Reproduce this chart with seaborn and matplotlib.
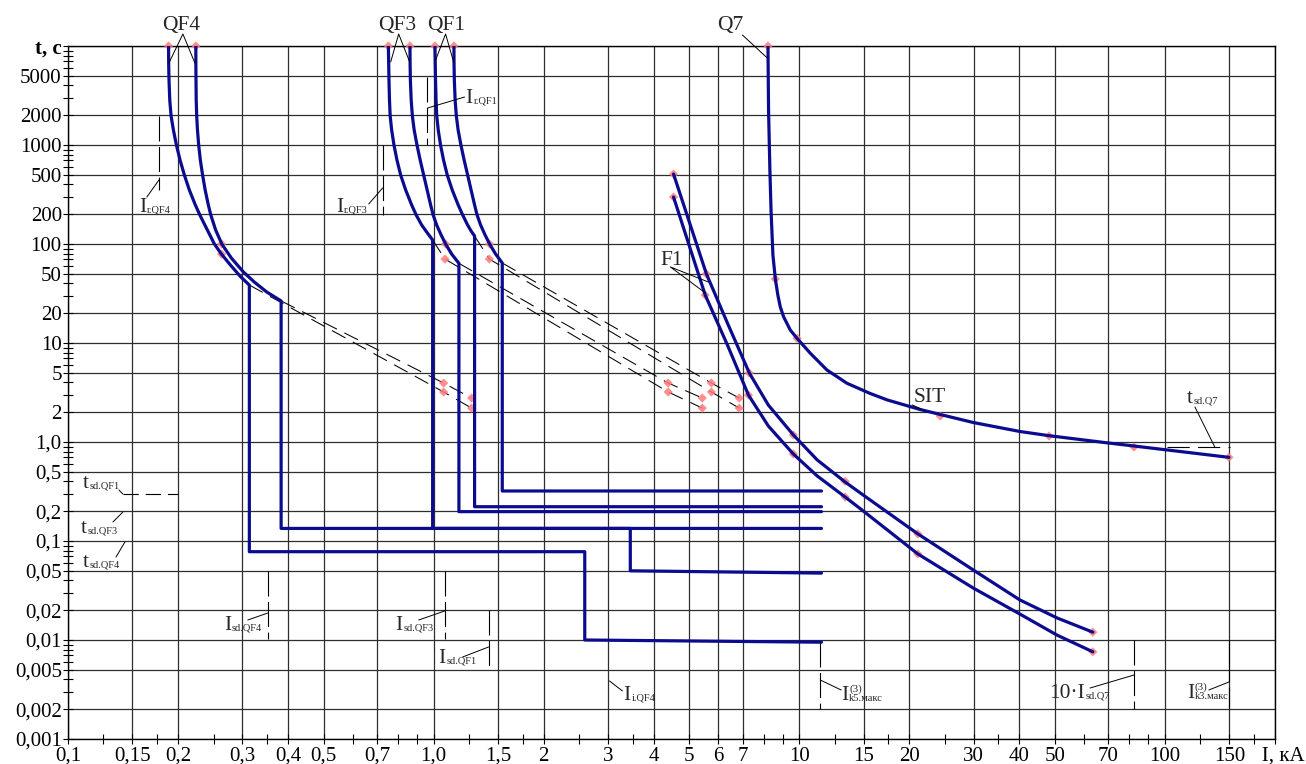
import matplotlib
matplotlib.use("Agg")
import matplotlib.pyplot as plt
from matplotlib.ticker import NullFormatter, FixedLocator, FixedFormatter
import pandas as pd
import seaborn as sns

# ---------------- data: current I (kA), time t (s) ----------------
# QF4 tolerance band (left / right curve)
qf4a_I = [0.1884, 0.1885, 0.1889, 0.1898, 0.1914, 0.1942, 0.1979, 0.2025, 0.2081, 0.2147, 0.2230,
          0.2294, 0.2405, 0.2514, 0.2627, 0.2780, 0.2970, 0.3133, 0.3133, 2.59, 2.59, 11.5]
qf4a_t = [10000, 6735, 4536, 2848, 1963, 1417, 1000, 705.6, 497.7, 351.2, 247.7,
          196.3, 138.5, 100, 79.3, 61.4, 46.4, 38.5, 0.078, 0.078, 0.010, 0.0095]
qf4b_I = [0.2237, 0.2237, 0.2239, 0.2242, 0.2249, 0.2260, 0.2277, 0.2301, 0.2334, 0.2372, 0.2420,
          0.2458, 0.2534, 0.2634, 0.2797, 0.3017, 0.3232, 0.3497, 0.3827, 0.3827, 3.45, 3.45, 11.5]
qf4b_t = [10000, 6735, 4536, 2848, 1963, 1417, 1000, 705.6, 497.7, 351.2, 247.7,
          196.3, 138.5, 100, 72.2, 52.2, 41.3, 32.7, 26.6, 0.134, 0.134, 0.050, 0.0474]
# QF3
qf3a_I = [0.7519, 0.7534, 0.7548, 0.7572, 0.7605, 0.7677, 0.7789, 0.7937, 0.8124, 0.8385, 0.8708,
          0.8959, 0.9274, 0.9569, 0.9937, 0.9937, 11.5]
qf3a_t = [10000, 6735, 4536, 2848, 1963, 1417, 1000, 705.6, 497.7, 351.2, 247.7,
          196.3, 155.6, 132.2, 109.7, 0.134, 0.134]
qf3b_I = [0.8615, 0.8621, 0.8637, 0.8681, 0.8746, 0.8846, 0.9004, 0.9186, 0.9391, 0.9599, 0.9813,
          0.9969, 1.0191, 1.0483, 1.0784, 1.1198, 1.1725, 1.1725, 11.5]
qf3b_t = [10000, 6735, 4536, 2848, 1963, 1417, 1000, 705.6, 497.7, 351.2, 247.7,
          196.3, 155.6, 123.3, 100, 79.3, 63.8, 0.198, 0.198]
# QF1
qf1a_I = [1.0082, 1.0101, 1.0120, 1.0152, 1.0197, 1.0294, 1.0444, 1.0642, 1.0894, 1.1241, 1.1673,
          1.2008, 1.2384, 1.2660, 1.2942, 1.2942, 11.5]
qf1a_t = [10000, 6735, 4536, 2848, 1963, 1417, 1000, 705.6, 497.7, 351.2, 247.7,
          196.3, 155.6, 135.3, 120.4, 0.222, 0.222]
qf1b_I = [1.1363, 1.1370, 1.1392, 1.1449, 1.1536, 1.1667, 1.1874, 1.2116, 1.2386, 1.2660, 1.2942,
          1.3147, 1.3440, 1.3826, 1.4223, 1.4770, 1.5406, 1.5406, 11.5]
qf1b_t = [10000, 6735, 4536, 2848, 1963, 1417, 1000, 705.6, 497.7, 351.2, 247.7,
          196.3, 155.6, 123.3, 100, 79.3, 64.3, 0.32, 0.32]
# F1 fuse (upper / lower curve)
f1a_I = [4.53, 5.57, 6.36, 7.30, 8.23, 9.63, 11.2, 13.35, 14.96, 21.1, 29.9, 40.1, 50.7, 63.5]
f1a_t = [509, 50, 15.9, 4.98, 2.36, 1.18, 0.658, 0.394, 0.291, 0.118, 0.051, 0.0254, 0.0167, 0.012]
f1b_I = [4.53, 5.53, 6.36, 7.26, 8.23, 9.63, 11.2, 13.35, 14.96, 21.1, 29.9, 40.1, 50.7, 63.5]
f1b_t = [298, 30.5, 9.55, 2.98, 1.45, 0.757, 0.4535, 0.278, 0.201, 0.074, 0.0335, 0.0183, 0.0112, 0.0076]
# Q7 (SIT)
q7_I = [8.21, 8.24, 8.31, 8.37, 8.47, 8.60, 8.737, 8.874, 9.06, 9.45, 9.86, 10.72, 11.9, 13.5, 15.63,
        17.4, 21.4, 24.3, 29.9, 40.1, 48.2, 69.4, 82.3, 105.4, 149.6]
q7_t = [10000, 2257, 559, 220, 77.4, 44.3, 30.5, 23.1, 18.4, 13.5, 11.15, 7.87, 5.34, 3.92, 3.09,
        2.66, 2.13, 1.896, 1.574, 1.277, 1.158, 0.981, 0.911, 0.817, 0.70]
# dashed I^2t continuations
d_qf4a_I = [0.3133, 1.065, 1.27];          d_qf4a_t = [38.5, 3.2, 2.2]
d_qf4b_I = [0.3827, 1.065, 1.27];          d_qf4b_t = [26.6, 3.94, 2.78]
d_qf3a_I = [0.9937, 1.074, 4.38, 5.43];    d_qf3a_t = [109.7, 70.5, 3.2, 2.2]
d_qf3b_I = [1.1725, 4.38, 5.43];           d_qf3b_t = [63.8, 3.94, 2.78]
d_qf1a_I = [1.2942, 1.42, 5.75, 6.85];     d_qf1a_t = [120.4, 70.5, 3.2, 2.2]
d_qf1b_I = [1.5406, 5.75, 6.85];           d_qf1b_t = [64.3, 3.94, 2.78]
# node markers
mk_I = [0.1884, 0.2237, 0.7519, 0.8615, 1.0082, 1.1363, 8.21,
        0.263, 0.263, 1.078, 1.074, 1.422, 1.42,
        1.065, 1.065, 1.27, 1.27, 4.38, 4.38, 5.43, 5.43, 5.75, 5.75, 6.85, 6.85,
        4.53, 4.53, 5.57, 5.53, 7.30, 7.26, 9.63, 9.63, 13.35, 13.35, 21.1, 21.1, 63.5, 63.5,
        8.60, 9.86, 24.3, 48.2, 82.3, 149.6]
mk_t = [10000, 10000, 10000, 10000, 10000, 10000, 10000,
        100, 79, 100, 70.5, 100, 70.5,
        3.94, 3.2, 2.78, 2.2, 3.94, 3.2, 2.78, 2.2, 3.94, 3.2, 2.78, 2.2,
        509, 298, 50, 30.5, 4.98, 2.98, 1.18, 0.757, 0.40, 0.278, 0.118, 0.074, 0.012, 0.0076,
        44.3, 11.15, 1.83, 1.15, 0.89, 0.70]
# axis ticks
x_ticks = [0.1, 0.15, 0.2, 0.3, 0.4, 0.5, 0.7, 1.0, 1.5, 2, 3, 4, 5, 6, 7, 10, 15, 20, 30, 40, 50, 70, 100, 150, 200]
x_labels = ["0,1", "0,15", "0,2", "0,3", "0,4", "0,5", "0,7", "1,0", "1,5", "2", "3", "4", "5", "6", "7",
            "10", "15", "20", "30", "40", "50", "70", "100", "150", "   I, кА"]
x_minor = [0.125, 0.175, 0.25, 0.35, 0.6, 0.8, 0.9, 1.25, 1.75, 2.5, 3.5, 8, 9, 12.5, 17.5, 25, 35, 60, 80, 90, 125, 175]
y_ticks = [0.001, 0.002, 0.005, 0.01, 0.02, 0.05, 0.1, 0.2, 0.5, 1, 2, 5, 10, 20, 50, 100, 200, 500, 1000, 2000, 5000, 10000]
y_labels = ["0,001", "0,002", "0,005", "0,01", "0,02", "0,05", "0,1", "0,2", "0,5", "1,0", "2", "5", "10", "20",
            "50", "100", "200", "500", "1000", "2000", "5000", "t, с"]
y_minor = [m * 10.0 ** k for k in range(-3, 4) for m in (3, 4, 6, 7, 8, 9)]

# ---------------- style ----------------
sns.set_theme(style="ticks")
plt.rcParams["font.family"] = ["Liberation Serif", "DejaVu Serif"]
plt.rcParams["lines.scale_dashes"] = False
plt.rcParams["axes.edgecolor"] = "black"
plt.rcParams["axes.linewidth"] = 1.0

NAVY = "#0b0b8f"
PINK = "#ff7a7a"

fig = plt.figure(figsize=(13.06, 7.64), dpi=100)
ax = fig.add_axes([68 / 1306, 1 - 739 / 764, 1207 / 1306, 693 / 764])
ax.set_xscale("log")
ax.set_yscale("log")
ax.set_xlim(0.1, 200)
ax.set_ylim(0.001, 10000)

ax.xaxis.set_major_locator(FixedLocator(x_ticks))
ax.xaxis.set_major_formatter(FixedFormatter(x_labels))
ax.xaxis.set_minor_locator(FixedLocator(x_minor))
ax.xaxis.set_minor_formatter(NullFormatter())
ax.yaxis.set_major_locator(FixedLocator(y_ticks))
ax.yaxis.set_major_formatter(FixedFormatter(y_labels))
ax.yaxis.set_minor_locator(FixedLocator(y_minor))
ax.yaxis.set_minor_formatter(NullFormatter())
ax.tick_params(which="both", direction="inout", length=7, width=0.8, colors="black",
               labelsize=15, bottom=True, left=True, top=False, right=False)
ax.tick_params(axis="x", pad=2)
ax.tick_params(axis="y", pad=1)
ax.grid(which="major", color="#2e2e2e", linewidth=0.9)
ax.set_axisbelow(True)

# ---------------- curves ----------------
curves = [(qf4a_I, qf4a_t), (qf4b_I, qf4b_t), (qf3a_I, qf3a_t), (qf3b_I, qf3b_t),
          (qf1a_I, qf1a_t), (qf1b_I, qf1b_t), (f1a_I, f1a_t), (f1b_I, f1b_t), (q7_I, q7_t)]
for I, t in curves:
    df = pd.DataFrame({"I": I, "t": t})
    sns.lineplot(data=df, x="I", y="t", sort=False, estimator=None, color=NAVY,
                 linewidth=2.3, ax=ax, zorder=4, solid_joinstyle="round")

dashed = [(d_qf4a_I, d_qf4a_t), (d_qf4b_I, d_qf4b_t), (d_qf3a_I, d_qf3a_t),
          (d_qf3b_I, d_qf3b_t), (d_qf1a_I, d_qf1a_t), (d_qf1b_I, d_qf1b_t)]
for I, t in dashed:
    ax.plot(I, t, color="black", lw=0.75, dashes=(11, 6), zorder=3)

sns.scatterplot(x=mk_I, y=mk_t, marker="D", s=22, color=PINK, edgecolor="none", alpha=0.85,
                linewidth=0, ax=ax, zorder=3.5, clip_on=False)

ax.set_xlabel("")
ax.set_ylabel("")
ax.get_yticklabels()[-1].set_fontweight("bold")

# ---------------- reference (dashed) lines ----------------
LW = 0.8
def vdash(x, t1, t2, d=(18, 4)):
    ax.plot([x, x], [t1, t2], color="black", lw=LW, dashes=d, zorder=3)

def hdash(t, x1, x2, d=(11, 5)):
    ax.plot([x1, x2], [t, t], color="black", lw=LW, dashes=d, zorder=3)

vdash(0.1773, 1963, 351)      # Ir.QF4
vdash(0.7253, 1000, 196)      # Ir.QF3
vdash(0.957, 4863, 1000)      # Ir.QF1
hdash(0.2984, 0.1413, 0.1998) # tsd.QF1
vdash(0.352, 0.0498, 0.01023) # Isd.QF4
vdash(1.0716, 0.0498, 0.01023)# Isd.QF3
vdash(1.413, 0.0201, 0.0051)  # Isd.QF1
vdash(11.41, 0.00953, 0.002)  # Ik5
vdash(82.3, 0.01, 0.002)      # 10 Isd.Q7
vdash(149.6, 0.01, 0.002, d=(30, 4))  # Ik3
hdash(0.89, 101.3, 150.5, d=(16, 6))  # tsd.Q7

# ---------------- leaders ----------------
def leader(xs, ts):
    ax.plot(xs, ts, color="black", lw=0.7, zorder=5, clip_on=False)

leader([0.1888, 0.2062, 0.2223], [6735, 13220, 6735])
leader([0.7629, 0.8023, 0.8601], [6893, 13220, 6893])
leader([1.0127, 1.078, 1.134], [7221, 13220, 6893])
leader([6.99, 8.177], [12920, 7564])
leader([5.641, 4.442, 5.536], [41.3, 58.6, 32])
leader([20.36, 21.54], [2.37, 2.154])
leader([0.1643, 0.1773], [298.4, 443])
leader([0.6645, 0.7253], [253.6, 368])
leader([0.963, 1.215], [2364, 3053])
leader([0.1378, 0.1413], [0.3275, 0.2984])
leader([0.1327, 0.1413], [0.1555, 0.1963])
leader([0.1353, 0.1431], [0.0689, 0.0977])
leader([0.3102, 0.352], [0.01592, 0.01874])
leader([0.910, 1.0716], [0.01592, 0.01963])
leader([1.200, 1.413], [0.00673, 0.0085])
leader([3.027, 3.284], [0.003853, 0.003055])
leader([11.41, 13.02], [0.003945, 0.003126])
leader([62.4, 82.3], [0.003273, 0.00443])
leader([131.9, 149.6], [0.003126, 0.003765])
leader([120.8, 136.9], [2.257, 0.89])

# ---------------- texts ----------------
FS = 15.5
SFS = 7.5
def plain(x, t, s):
    ax.text(x, t, s, fontsize=FS, ha="center", va="baseline", zorder=6, clip_on=False)

def label(x, t, main, sub=None, sup=None):
    tx = ax.text(x, t, main, fontsize=FS, ha="left", va="baseline", zorder=6)
    if sub:
        ax.annotate(sub, xy=(1, 0), xycoords=tx, xytext=(0.5, 1.7), textcoords="offset points",
                    fontsize=SFS, ha="left", va="bottom", zorder=6)
    if sup:
        ax.annotate(sup, xy=(1, 1), xycoords=tx, xytext=(0.5, 1.0), textcoords="offset points",
                    fontsize=SFS + 0.5, ha="left", va="top", zorder=6)

plain(0.204, 14510, "QF4")
plain(0.797, 14510, "QF3")
plain(1.085, 14510, "QF1")
plain(6.478, 14510, "Q7")
plain(4.47, 61.4, "F1")
plain(22.8, 2.535, "SIT")

label(0.1563, 210.5, "I", "r.QF4")
label(0.540, 210.5, "I", "r.QF3")
label(1.223, 2656, "I", "r.QF1")
label(0.1099, 0.343, "t", "sd.QF1")
label(0.1085, 0.1204, "t", "sd.QF3")
label(0.1099, 0.0546, "t", "sd.QF4")
label(0.2668, 0.01262, "I", "sd.QF4")
label(0.7873, 0.01262, "I", "sd.QF3")
label(1.032, 0.00586, "I", "sd.QF1")
label(3.305, 0.00248, "I", "i.QF4")
label(13.02, 0.00248, "I", "k5.макс", "(3)")
label(48.2, 0.0026, "10·I", "sd.Q7")
label(114.8, 0.0026, "I", "k3.макс", "(3)")
label(114.8, 2.477, "t", "sd.Q7")

fig.savefig("out.png", dpi=100)
